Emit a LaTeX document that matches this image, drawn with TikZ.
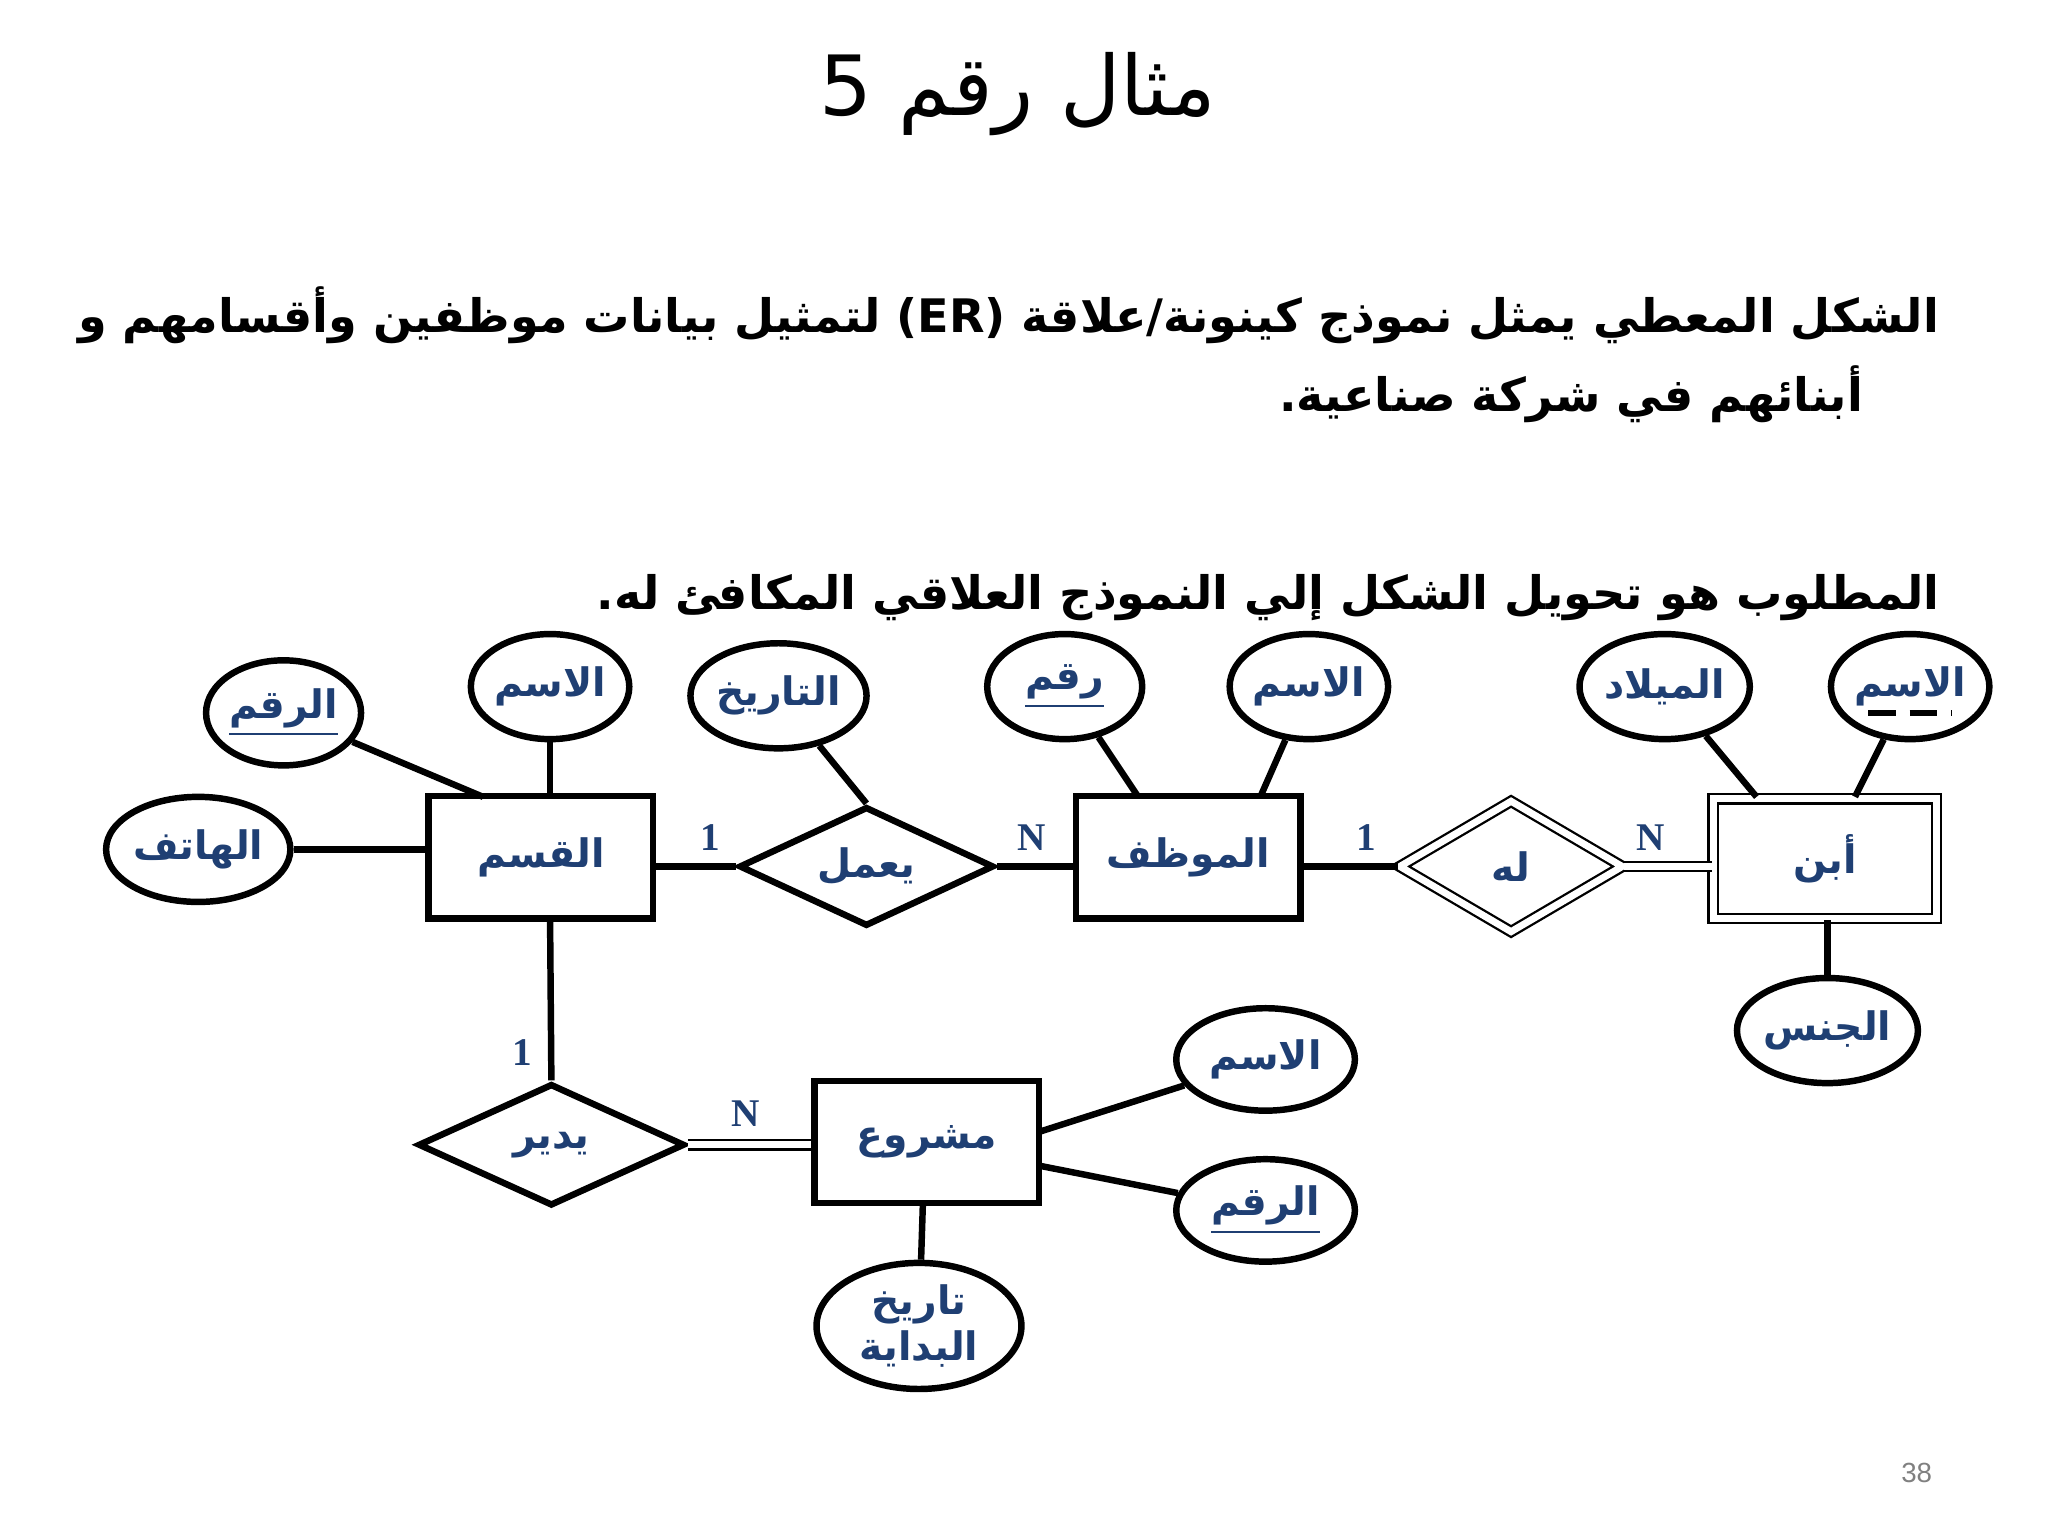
\documentclass[tikz,border=0pt]{standalone}
\usepackage{fontspec}
\usetikzlibrary{shapes.geometric,calc}
\TeXXeTstate=1
\newfontfamily\arabicfont[Script=Arabic]{DejaVu Sans}
\newfontfamily\numfont{Liberation Serif}
\definecolor{ink}{HTML}{1F3F73}
\tikzset{
 ent/.style={draw,line width=1.4pt,minimum width=1.71cm,minimum height=0.93cm,inner sep=0,text=ink,font=\arabicfont\bfseries\fontsize{8.5}{10}\selectfont},
 wk/.style={draw,line width=0.5pt,double,double distance=1.5pt,minimum width=1.70cm,minimum height=0.91cm,inner sep=0,text=ink,font=\arabicfont\bfseries\fontsize{8.5}{10}\selectfont},
 rel/.style={draw,diamond,aspect=2.1,line width=1.4pt,minimum width=1.94cm,minimum height=0.91cm,inner sep=0,text=ink,font=\arabicfont\bfseries\fontsize{8.5}{10}\selectfont},
 att/.style={draw,ellipse,line width=1.4pt,minimum width=1.18cm,minimum height=0.8cm,inner sep=0,text=ink,font=\arabicfont\bfseries\fontsize{8.5}{10}\selectfont},
 ln/.style={line width=1.4pt},
 dl/.style={line width=0.5pt,double,double distance=1.5pt},
 card/.style={text=ink,font=\numfont\bfseries\fontsize{8.5}{10}\selectfont,inner sep=0},
 para/.style={anchor=east,font=\arabicfont\bfseries\fontsize{10}{12}\selectfont,inner sep=0},
}
\begin{document}
\begin{tikzpicture}[x=0.01cm,y=-0.01cm]
\useasboundingbox (0,0) rectangle (1560,1170);
\node[font=\arabicfont\fontsize{18}{22}\selectfont] (title) at (775,72) {\beginR مثال رقم \beginL5\endL\endR};
\node[para] (p1) at (1478,240) {\beginR الشكل المعطي يمثل نموذج كينونة/علاقة \beginL(ER)\endL{} لتمثيل بيانات موظفين وأقسامهم و\endR};
\node[para] (p2) at (1420,300) {\beginR أبنائهم  في شركة صناعية.\endR};
\node[para] (p3) at (1478,455) {\beginR المطلوب هو تحويل الشكل إلي النموذج العلاقي المكافئ له.\endR};

\node[ent] (qsm) at (412,653) {\beginR القسم\endR};
\node[ent] (mwz) at (905,653) {\beginR الموظف\endR};
\node[wk] (ibn) at (1390,654) {\beginR أبن\endR};
\node[ent] (msh) at (706,870) {\beginR مشروع\endR};

\node[rel] (yml) at (660,660) {\beginR يعمل\endR};
\node[rel,line width=0.5pt,double,double distance=1.5pt,minimum width=1.70cm,minimum height=1.0cm] (lah) at (1151,660) {\beginR له\endR};
\node[rel,minimum width=2.03cm,minimum height=0.93cm] (ydr) at (420,872) {\beginR يدير\endR};

\node[att] (a1) at (216,543) {\beginR\underline{الرقم}\endR};
\node[att] (a2) at (419,523) {\beginR الاسم\endR};
\node[att] (a3) at (151,647) {\beginR الهاتف\endR};
\node[att] (a4) at (593,530) {\beginR التاريخ\endR};
\node[att] (a5) at (811,523) {\beginR\underline{رقم}\endR};
\node[att] (a6) at (997,523) {\beginR الاسم\endR};
\node[att] (a7) at (1268,523) {\beginR الميلاد\endR};
\node[att] (a8) at (1455,523) {\beginR الاسم\endR};
\draw[line width=1.2pt,dash pattern=on 6pt off 3pt] ($(a8.center)+(-32,20)$) coordinate (u1) -- ($(a8.center)+(32,20)$) coordinate (u2);
\node[att] (a9) at (1392,785) {\beginR الجنس\endR};
\node[att,minimum width=1.36cm,minimum height=0.78cm] (a10) at (964,807) {\beginR الاسم\endR};
\node[att,minimum width=1.36cm,minimum height=0.78cm] (a11) at (964,922) {\beginR\underline{الرقم}\endR};
\node[att,minimum width=1.56cm,minimum height=0.96cm,align=center] (a12) at (700,1010) {\beginR تاريخ\endR\\\beginR البداية\endR};

\draw[ln] (a1) -- (368,607);
\draw[ln] (a2) -- (419,607);
\draw[ln] (a3) -- (qsm.west|-a3);
\draw[ln] (a4) -- (yml.north);
\draw[ln] (a5) -- (867,607);
\draw[ln] (a6) -- (960,607);
\draw[ln] (a7) -- (1338,607);
\draw[ln] (a8) -- (1413,607);
\draw[ln] (1392,701) -- (a9);
\draw[ln] (qsm.east|-yml) -- (yml.west);
\draw[ln] (yml.east) -- (mwz.west|-yml);
\draw[ln] (mwz.east|-lah) -- (lah.west);
\draw[dl] (lah.east) -- (ibn.west|-lah);
\draw[ln] (419,700) -- (ydr.north);
\draw[dl] (ydr.east) -- (msh.west|-ydr);
\draw[ln] (792,862) -- (a10);
\draw[ln] (792,888) -- (a11);
\draw[ln] (703,916) -- (a12);

\node[card] (c1) at (541,638) {1};
\node[card] (c2) at (786,638) {N};
\node[card] (c3) at (1041,638) {1};
\node[card] (c4) at (1257,638) {N};
\node[card] (c5) at (398,802) {1};
\node[card] (c6) at (568,848) {N};
\node[text=gray,font=\fontspec{Liberation Sans}\fontsize{6}{7}\selectfont] (pg) at (1460,1122) {38};
\end{tikzpicture}
\end{document}
